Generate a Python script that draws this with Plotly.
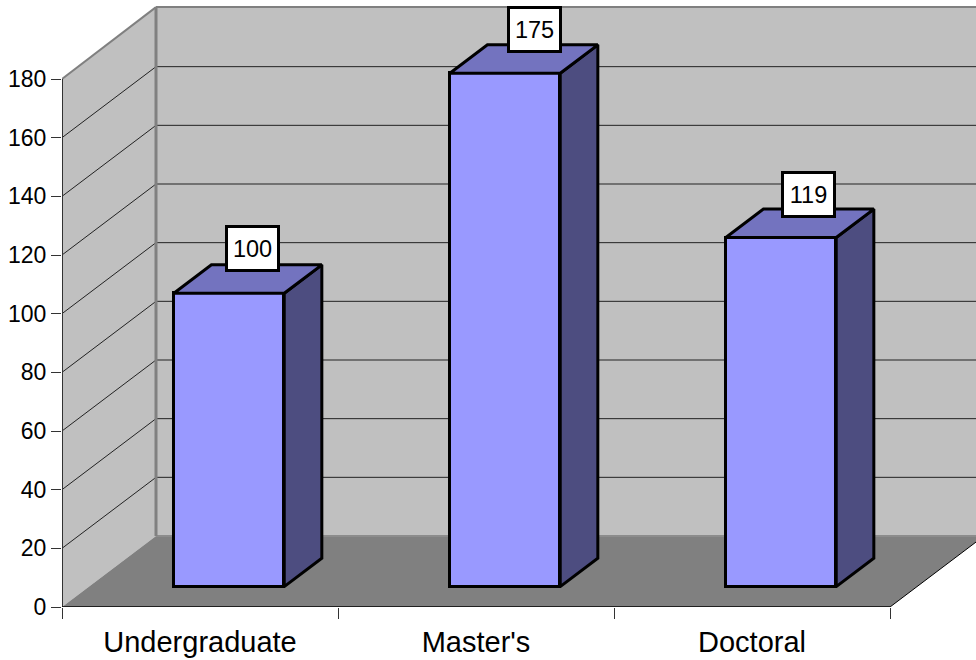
import plotly.graph_objects as go

categories = ["Undergraduate", "Master's", "Doctoral"]
values = [100, 175, 119]
y_ticks = [0, 20, 40, 60, 80, 100, 120, 140, 160, 180]
cat_edges = [0, 1, 2, 3]

WALL, FLOOR, GRID, AXIS = "#C0C0C0", "#808080", "#222222", "#333333"
FRONT, TOP, SIDE = "#9999FF", "#7373BF", "#4D4D80"

# pixel scale of the oblique projection, expressed in data units
PX_X = 276.0
PX_Y = 528.0 / 180
DX = 94.0 / PX_X      # full chart depth along x
DY = 71.0 / PX_Y      # full chart depth along y
BAR_W = 0.4
D0, D1 = 0.3, 0.7     # bar depth start and end, as fraction of full depth
XMAX = 914.0 / PX_X
YMAX = 607.0 / PX_Y
YTOP = y_ticks[-1]
BAR_LW = 3

# data-label offsets from the centre of each bar's front top edge, in axis units
label_dx = [0.085, 0.105, 0.0996]
label_dy = [15.3, 14.8, 14.8]

def path(pts):
    return "M" + " L".join(f"{x},{y}" for x, y in pts) + " Z"

def wall(color, pts, line=None):
    return dict(type="path", path=path(pts), fillcolor=color, layer="below",
                line=dict(width=0) if line is None else line, xref="x", yref="y")

def seg(x0, y0, x1, y1, color, width):
    return dict(type="line", x0=x0, y0=y0, x1=x1, y1=y1, xref="x", yref="y",
                layer="below", line=dict(color=color, width=width))

shapes = [
    wall(WALL, [(DX, DY), (XMAX + 1, DY), (XMAX + 1, YTOP + DY + 0.3), (DX, YTOP + DY + 0.3)]),
    wall(WALL, [(0, 0), (DX, DY), (DX, YTOP + DY + 0.3), (0, YTOP)]),
    wall(FLOOR, [(0, 0), (3, 0), (3 + DX, DY), (DX, DY)]),
]
for t in y_ticks[1:-1]:
    shapes.append(seg(0, t, DX, t + DY, GRID, 1))
    shapes.append(seg(DX, t + DY, XMAX, t + DY, GRID, 1))
shapes += [
    seg(0, YTOP, DX, YTOP + DY + 0.3, FLOOR, 2),
    seg(DX, YTOP + DY + 0.3, XMAX, YTOP + DY + 0.3, FLOOR, 2),
    seg(DX, DY, XMAX, DY, "#8C8C8C", 2),
    seg(DX, DY, DX, YTOP + DY + 0.3, FLOOR, 3),
]

centers = [i + 0.5 + D0 * DX + 0.003 for i in range(len(categories))]
base = D0 * DY - 0.3

fig = go.Figure()
fig.add_trace(go.Bar(
    x=centers, y=values, base=base, width=BAR_W,
    marker=dict(color=FRONT, line=dict(color="black", width=BAR_LW)),
    hoverinfo="skip", showlegend=False))

dd_x = (D1 - D0) * DX
dd_y = (D1 - D0) * DY
for c, v in zip(centers, values):
    l, r = c - BAR_W / 2, c + BAR_W / 2
    b, t = base, base + v
    fig.add_trace(go.Scatter(
        x=[r, r + dd_x, r + dd_x, r, r], y=[b, b + dd_y, t + dd_y, t, b],
        mode="lines", fill="toself", fillcolor=SIDE, line=dict(color="black", width=BAR_LW),
        hoverinfo="skip", showlegend=False))
    fig.add_trace(go.Scatter(
        x=[l, r, r + dd_x, l + dd_x, l], y=[t, t, t + dd_y, t + dd_y, t],
        mode="lines", fill="toself", fillcolor=TOP, line=dict(color="black", width=BAR_LW),
        hoverinfo="skip", showlegend=False))

# axis lines
fig.add_trace(go.Scatter(x=[0, 0], y=[0, YTOP], mode="lines", cliponaxis=False,
                         line=dict(color=AXIS, width=2), hoverinfo="skip", showlegend=False))
fig.add_trace(go.Scatter(x=[0, 3], y=[0, 0], mode="lines", cliponaxis=False,
                         line=dict(color="black", width=1.5), hoverinfo="skip", showlegend=False))
fig.add_trace(go.Scatter(x=[3, 3 + DX], y=[0, DY], mode="lines", cliponaxis=True,
                         line=dict(color="black", width=1), hoverinfo="skip", showlegend=False))

annotations = [
    dict(x=c + ox, y=base + v + oy, text=str(v), xref="x", yref="y", showarrow=False,
         font=dict(family="Liberation Sans", size=23.5, color="black"),
         bgcolor="white", bordercolor="black", borderwidth=3,
         width=49, height=41, borderpad=0, valign="middle", align="center")
    for c, v, ox, oy in zip(centers, values, label_dx, label_dy)
]

fig.update_layout(
    width=976, height=660, margin=dict(l=62, r=0, t=0, b=53),
    paper_bgcolor="white", plot_bgcolor="white", showlegend=False, bargap=0,
    font=dict(family="Liberation Sans", color="black"),
    shapes=shapes, annotations=annotations,
    xaxis=dict(range=[0, XMAX], tickmode="array",
               tickvals=[i + 0.5 for i in range(len(categories))], ticktext=categories,
               ticks="", ticklen=0, ticklabelstandoff=15, showgrid=False, zeroline=False, showline=False,
               tickfont=dict(size=29),
               minor=dict(tickmode="array", tickvals=cat_edges, ticks="outside", ticklen=11,
                          tickcolor=AXIS, tickwidth=1, showgrid=False)),
    yaxis=dict(range=[0, YMAX], tickmode="array", tickvals=y_ticks, ticktext=[str(t) for t in y_ticks],
               ticks="outside", ticklen=10, tickcolor=AXIS, tickwidth=1, showgrid=False,
               zeroline=False, showline=False, tickfont=dict(size=23)),
)
fig.write_html("out.html", post_script="document.body.style.margin='0';",
               config=dict(displayModeBar=False))
